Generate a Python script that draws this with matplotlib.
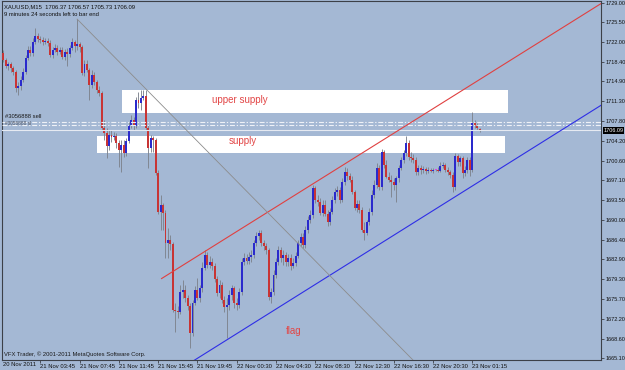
import matplotlib
matplotlib.use("Agg")
import matplotlib.pyplot as plt
from matplotlib.patches import Rectangle
import matplotlib.transforms as mtransforms

# ---------------- data (XAUUSD M15) ----------------
opens = [1720.0, 1718.7, 1717.7, 1718.0, 1717.3, 1716.6, 1713.7, 1714.0, 1715.1, 1716.6,
         1719.1, 1720.5, 1720.0, 1722.0, 1723.1, 1722.5, 1722.3, 1722.0, 1722.2, 1721.8,
         1719.6, 1720.5, 1720.9, 1720.2, 1720.5, 1719.3, 1720.2, 1719.8, 1720.9, 1722.0,
         1721.3, 1721.6, 1721.1, 1716.4, 1718.0, 1716.9, 1714.2, 1716.0, 1714.8, 1713.3,
         1712.8, 1706.5, 1705.6, 1703.3, 1705.2, 1704.9, 1705.1, 1703.8, 1702.5, 1703.4,
         1702.0, 1704.2, 1707.0, 1707.9, 1706.9, 1711.5, 1711.0, 1711.9, 1712.3, 1706.5,
         1702.9, 1704.7, 1704.3, 1698.4, 1691.4, 1692.6, 1691.2, 1685.8, 1686.3, 1685.6,
         1673.7, 1673.6, 1673.4, 1677.0, 1677.3, 1675.9, 1674.5, 1669.6, 1675.0, 1677.3,
         1675.9, 1677.7, 1681.3, 1683.6, 1681.8, 1682.4, 1681.7, 1679.3, 1676.8, 1678.2,
         1675.5, 1674.3, 1674.6, 1676.4, 1677.7, 1675.0, 1674.6, 1677.0, 1682.4, 1683.1,
         1682.6, 1683.3, 1683.6, 1685.8, 1687.0, 1687.6, 1685.8, 1685.3, 1684.5, 1676.1,
         1677.0, 1680.0, 1682.4, 1684.5, 1683.1, 1683.6, 1682.4, 1683.1, 1681.7, 1682.2,
         1683.5, 1685.8, 1686.9, 1685.4, 1688.1, 1689.9, 1690.8, 1695.7, 1693.5, 1693.2,
         1691.2, 1692.6, 1691.0, 1689.6, 1691.4, 1693.5, 1695.0, 1695.3, 1693.5, 1696.8,
         1698.6, 1697.9, 1697.1, 1695.0, 1692.1, 1692.8, 1691.7, 1688.1, 1687.6, 1689.6,
         1691.4, 1694.4, 1696.2, 1699.3, 1695.9, 1702.2, 1699.8, 1697.7, 1697.1, 1696.8,
         1696.2, 1697.5, 1699.3, 1700.7, 1702.0, 1703.8, 1701.3, 1701.1, 1700.7, 1698.6,
         1699.3, 1698.9, 1699.1, 1698.8, 1698.9, 1698.8, 1698.9, 1698.9, 1698.8, 1699.7,
         1699.8, 1698.9, 1698.6, 1698.0, 1695.9, 1701.5, 1700.4, 1701.1, 1698.4, 1698.9,
         1700.7, 1698.9, 1707.4, 1706.9, 1706.37]
highs = [1720.5, 1719.1, 1718.4, 1718.4, 1717.7, 1716.9, 1714.8, 1715.9, 1717.3, 1719.6,
         1721.3, 1721.3, 1722.7, 1724.5, 1723.6, 1723.1, 1722.9, 1722.7, 1722.7, 1722.3,
         1721.1, 1721.6, 1721.4, 1721.1, 1721.1, 1720.7, 1720.9, 1721.4, 1722.7, 1722.3,
         1726.1, 1722.0, 1721.4, 1718.7, 1718.7, 1717.3, 1716.9, 1716.6, 1715.1, 1714.0,
         1713.2, 1707.9, 1706.5, 1706.1, 1706.1, 1705.8, 1705.6, 1704.3, 1704.3, 1704.3,
         1704.7, 1707.6, 1708.8, 1708.5, 1712.1, 1713.0, 1713.3, 1713.3, 1713.3, 1707.0,
         1705.2, 1705.1, 1704.7, 1698.9, 1694.4, 1693.0, 1691.7, 1688.5, 1687.2, 1686.0,
         1675.0, 1674.5, 1678.2, 1679.1, 1678.2, 1676.4, 1675.0, 1675.5, 1678.1, 1679.5,
         1678.2, 1682.4, 1684.5, 1684.2, 1683.5, 1683.1, 1682.2, 1679.9, 1679.1, 1678.8,
         1676.3, 1675.9, 1677.3, 1678.2, 1678.1, 1675.9, 1677.7, 1683.1, 1684.0, 1683.8,
         1684.2, 1684.5, 1686.3, 1687.8, 1688.1, 1688.1, 1686.3, 1685.8, 1684.9, 1677.7,
         1680.9, 1683.1, 1685.3, 1685.1, 1684.5, 1684.2, 1683.8, 1683.8, 1683.1, 1684.2,
         1686.3, 1687.6, 1687.6, 1688.9, 1690.7, 1691.7, 1696.2, 1696.1, 1694.4, 1693.9,
         1693.5, 1693.5, 1691.7, 1692.1, 1694.3, 1695.7, 1696.1, 1695.9, 1697.5, 1699.5,
         1699.3, 1698.4, 1697.9, 1695.3, 1693.5, 1693.5, 1692.3, 1689.6, 1689.9, 1692.1,
         1695.3, 1697.1, 1700.2, 1699.8, 1702.7, 1702.5, 1700.7, 1698.6, 1698.0, 1697.5,
         1697.9, 1699.8, 1701.3, 1702.5, 1705.1, 1704.3, 1702.2, 1701.8, 1701.3, 1699.8,
         1699.8, 1699.7, 1699.5, 1699.5, 1699.3, 1699.3, 1699.1, 1699.5, 1700.4, 1700.4,
         1700.2, 1699.5, 1698.9, 1698.6, 1702.0, 1701.8, 1701.5, 1701.5, 1699.7, 1701.3,
         1701.3, 1709.4, 1707.9, 1707.4, 1706.57]
lows = [1718.4, 1717.3, 1716.9, 1716.6, 1716.0, 1713.0, 1712.4, 1713.3, 1714.8, 1716.2,
        1718.7, 1719.5, 1719.5, 1721.6, 1722.0, 1721.8, 1721.4, 1721.6, 1721.3, 1719.3,
        1719.1, 1720.2, 1719.6, 1719.8, 1718.9, 1718.7, 1717.7, 1719.3, 1720.5, 1720.2,
        1720.5, 1720.2, 1716.0, 1715.9, 1716.6, 1711.5, 1713.7, 1714.2, 1712.8, 1712.3,
        1706.1, 1704.3, 1701.1, 1702.5, 1704.0, 1704.3, 1702.9, 1699.5, 1698.6, 1701.3,
        1701.5, 1703.8, 1706.5, 1706.1, 1706.5, 1710.1, 1709.7, 1711.5, 1706.1, 1699.3,
        1702.2, 1702.2, 1698.0, 1691.0, 1688.1, 1688.1, 1683.1, 1683.1, 1684.5, 1673.4,
        1669.8, 1672.3, 1673.0, 1675.9, 1675.2, 1673.7, 1666.9, 1669.1, 1674.6, 1675.5,
        1675.2, 1677.0, 1680.9, 1681.3, 1681.3, 1680.9, 1678.8, 1676.3, 1675.9, 1675.0,
        1673.4, 1668.7, 1673.7, 1675.5, 1674.1, 1673.7, 1674.1, 1676.4, 1681.8, 1682.0,
        1682.0, 1682.4, 1683.1, 1685.3, 1686.3, 1685.3, 1684.5, 1683.8, 1675.5, 1675.0,
        1676.4, 1679.5, 1681.8, 1682.4, 1681.8, 1681.7, 1681.7, 1680.9, 1681.3, 1681.7,
        1683.1, 1685.3, 1684.9, 1684.9, 1687.6, 1689.4, 1690.3, 1693.0, 1692.5, 1690.8,
        1690.7, 1690.7, 1688.9, 1689.0, 1691.0, 1693.0, 1694.3, 1693.0, 1693.2, 1696.2,
        1697.1, 1696.8, 1694.6, 1691.7, 1691.4, 1691.2, 1687.8, 1686.3, 1687.2, 1689.0,
        1690.8, 1693.9, 1695.7, 1695.3, 1695.3, 1699.3, 1697.5, 1696.8, 1694.1, 1695.3,
        1693.2, 1696.8, 1698.9, 1700.2, 1701.5, 1700.7, 1700.4, 1700.2, 1698.0, 1698.0,
        1698.2, 1698.4, 1698.2, 1698.4, 1698.6, 1698.4, 1698.8, 1698.6, 1698.6, 1699.3,
        1698.6, 1698.0, 1697.5, 1695.0, 1695.3, 1699.7, 1699.7, 1697.5, 1697.9, 1698.4,
        1697.9, 1698.6, 1706.5, 1706.1, 1705.73]
closes = [1718.7, 1717.7, 1718.0, 1717.3, 1716.6, 1713.7, 1714.0, 1715.1, 1716.6, 1719.1,
          1720.5, 1720.0, 1722.0, 1723.1, 1722.5, 1722.3, 1722.0, 1722.2, 1721.8, 1719.6,
          1720.5, 1720.9, 1720.2, 1720.5, 1719.3, 1720.2, 1719.8, 1720.9, 1722.0, 1721.3,
          1721.6, 1721.1, 1716.4, 1718.0, 1716.9, 1714.2, 1716.0, 1714.8, 1713.3, 1712.8,
          1706.5, 1705.6, 1703.3, 1705.2, 1704.9, 1705.1, 1703.8, 1702.5, 1703.4, 1702.0,
          1704.2, 1707.0, 1707.9, 1706.9, 1711.5, 1711.0, 1711.9, 1712.3, 1706.5, 1702.9,
          1704.7, 1704.3, 1698.4, 1691.4, 1692.6, 1691.2, 1685.8, 1686.3, 1685.6, 1673.7,
          1673.6, 1673.4, 1677.0, 1677.3, 1675.9, 1674.5, 1669.6, 1675.0, 1677.3, 1675.9,
          1677.7, 1681.3, 1683.6, 1681.8, 1682.4, 1681.7, 1679.3, 1676.8, 1678.2, 1675.5,
          1674.3, 1674.6, 1676.4, 1677.7, 1675.0, 1674.6, 1677.0, 1682.4, 1683.1, 1682.6,
          1683.3, 1683.6, 1685.8, 1687.0, 1687.6, 1685.8, 1685.3, 1684.5, 1676.1, 1677.0,
          1680.0, 1682.4, 1684.5, 1683.1, 1683.6, 1682.4, 1683.1, 1681.7, 1682.2, 1683.5,
          1685.8, 1686.9, 1685.4, 1688.1, 1689.9, 1690.8, 1695.7, 1693.5, 1693.2, 1691.2,
          1692.6, 1691.0, 1689.6, 1691.4, 1693.5, 1695.0, 1695.3, 1693.5, 1696.8, 1698.6,
          1697.9, 1697.1, 1695.0, 1692.1, 1692.8, 1691.7, 1688.1, 1687.6, 1689.6, 1691.4,
          1694.4, 1696.2, 1699.3, 1695.9, 1702.2, 1699.8, 1697.7, 1697.1, 1696.8, 1696.2,
          1697.5, 1699.3, 1700.7, 1702.0, 1703.8, 1701.3, 1701.1, 1700.7, 1698.6, 1699.3,
          1698.9, 1699.1, 1698.8, 1698.9, 1698.8, 1698.9, 1698.9, 1698.8, 1699.7, 1699.8,
          1698.9, 1698.6, 1698.0, 1695.9, 1701.5, 1700.4, 1701.1, 1698.4, 1698.9, 1700.7,
          1698.9, 1707.4, 1706.9, 1706.5, 1706.09]

x_tick_bars = [15, 31, 47, 63, 79, 95, 111, 127, 143, 159, 175, 191]
x_tick_labels = ["21 Nov 03:45", "21 Nov 07:45", "21 Nov 11:45", "21 Nov 15:45",
                 "21 Nov 19:45", "22 Nov 00:30", "22 Nov 04:30", "22 Nov 08:30",
                 "22 Nov 12:30", "22 Nov 16:30", "22 Nov 20:30", "23 Nov 01:15"]
first_date_label = "20 Nov 2011"
y_tick_values = [1729.00, 1725.50, 1722.00, 1718.40, 1714.90, 1711.30, 1707.80,
                 1704.20, 1700.60, 1697.10, 1693.50, 1690.00, 1686.40, 1682.90,
                 1679.30, 1675.70, 1672.20, 1668.60, 1665.10]
y_tick_labels = ["%.2f" % v for v in y_tick_values]

# chart objects (bar index, price)
upper_supply_box = (48.2, 205.4, 1709.2, 1713.3)
supply_box = (38.1, 204.2, 1702.0, 1705.1)
red_trend = [(64.4, 1679.4), (243.6, 1728.95)]
blue_trend = [(70.0, 1662.55), (243.6, 1710.64)]
gray_trend = [(30.0, 1726.1), (170.0, 1663.3)]
order_open_price = 1707.6
order_sl_price = 1707.1
bid_price = 1706.09
label_upper_supply = (96.3, 1711.5, "upper supply")
label_supply = (97.3, 1704.1, "supply")
label_flag = (118.1, 1669.9, "flag")

# ---------------- styles ----------------
BG = "#A4B8D4"
BULL = "#2A2ACC"
BEAR = "#C83434"
WICK = "#7E848E"
TXT_RED = "#E24646"
FRAME = "#3C4048"
FONT = ["Liberation Sans", "DejaVu Sans"]
plt.rcParams["font.family"] = FONT

W, H = 625, 370
fig = plt.figure(figsize=(W / 100, H / 100), dpi=100)
fig.patch.set_facecolor(BG)
ax = fig.add_axes([2 / W, 10.5 / H, 599 / W, 358.5 / H])
ax.set_facecolor(BG)
ax.set_xlim(-0.6, 243.4)
ax.set_ylim(1664.83, 1729.36)

# supply rectangles (background objects)
for (x0, x1, y0, y1) in (upper_supply_box, supply_box):
    ax.add_patch(Rectangle((x0, y0), x1 - x0, y1 - y0, facecolor="white",
                           edgecolor="none", zorder=1))

# candles
n = len(closes)
idx = list(range(n))
ax.vlines(idx, lows, highs, color=WICK, linewidth=0.65, zorder=3)
bottoms, heights, colors = [], [], []
for o, c in zip(opens, closes):
    bottoms.append(min(o, c))
    heights.append(max(abs(c - o), 0.15))
    if c > o:
        colors.append(BULL)
    elif c < o:
        colors.append(BEAR)
    else:
        colors.append("#E040E0")
ax.bar(idx, heights, bottom=bottoms, width=0.8, color=colors,
       linewidth=0, zorder=4)

# order lines and bid line
for p in (order_open_price, order_sl_price):
    ax.axhline(p, color="#EEF1F7", linewidth=0.8, dashes=(4.5, 1.6, 1.2, 1.6),
               zorder=5)
ax.axhline(bid_price, color="#E6EAF2", linewidth=0.8, zorder=5)

# trend lines
ax.plot(*zip(*red_trend), color="#E04040", linewidth=0.8, zorder=6)
ax.plot(*zip(*blue_trend), color="#2E2EE6", linewidth=0.8, zorder=6)
ax.plot(*zip(*gray_trend), color="#8C8C8C", linewidth=0.6, zorder=6)

# text objects
for (bx, py, s) in (label_upper_supply, label_supply, label_flag):
    ax.text(bx, py, s, color=TXT_RED, fontsize=7, ha="center", va="center",
            zorder=7)

ax.text(0.6, 1708.55, "#3056888 sell", color="#1A1A1A", fontsize=4.2,
        ha="left", va="center", zorder=7)
ax.text(0.6, 1707.3, "#3056888 sl", color="#4A5262", fontsize=3.4,
        ha="left", va="center", zorder=7)

fig.text(4 / W, 1 - 6.5 / H,
         "XAUUSD,M15  1706.37 1706.57 1705.73 1706.09",
         fontsize=4.2, color="#111111", ha="left", va="center")
fig.text(4 / W, 1 - 14.5 / H, "9 minutes 24 seconds left to bar end",
         fontsize=4.2, color="#111111", ha="left", va="center")
fig.text(4 / W, 1 - 354.5 / H,
         "VFX Trader, \u00a9 2001-2011 MetaQuotes Software Corp.",
         fontsize=4.2, color="#1A1A1A", ha="left", va="center")

# axes, ticks
for side in ("left", "right", "top", "bottom"):
    ax.spines[side].set_color(FRAME)
    ax.spines[side].set_linewidth(0.8)
ax.yaxis.tick_right()
ax.set_yticks(y_tick_values)
ax.set_yticklabels(y_tick_labels)
ax.tick_params(axis="y", which="both", right=True, left=False, labelright=True,
               labelleft=False, length=2.2, width=0.6, color=FRAME, pad=0.8,
               labelsize=4.0, labelcolor="#111111")
ax.set_xticks(x_tick_bars)
ax.set_xticklabels(x_tick_labels, ha="left")
ax.tick_params(axis="x", which="both", bottom=True, top=False, length=2.5,
               width=0.6, color=FRAME, pad=0.8, labelsize=4.2,
               labelcolor="#111111")
ax.text(-0.3, -0.006, first_date_label, transform=mtransforms.blended_transform_factory(
    ax.transData, ax.transAxes), fontsize=4.2, color="#111111", ha="left", va="top")

# current price marker on the price scale
trans = mtransforms.blended_transform_factory(ax.transAxes, ax.transData)
ax.text(1.0 + 2.5 / 599, bid_price, "%.2f" % bid_price, transform=trans,
        fontsize=4.0, color="white", ha="left", va="center", zorder=8,
        bbox=dict(facecolor="black", edgecolor="none", pad=0.6), clip_on=False)

fig.savefig("out.png", dpi=100, facecolor=BG)
